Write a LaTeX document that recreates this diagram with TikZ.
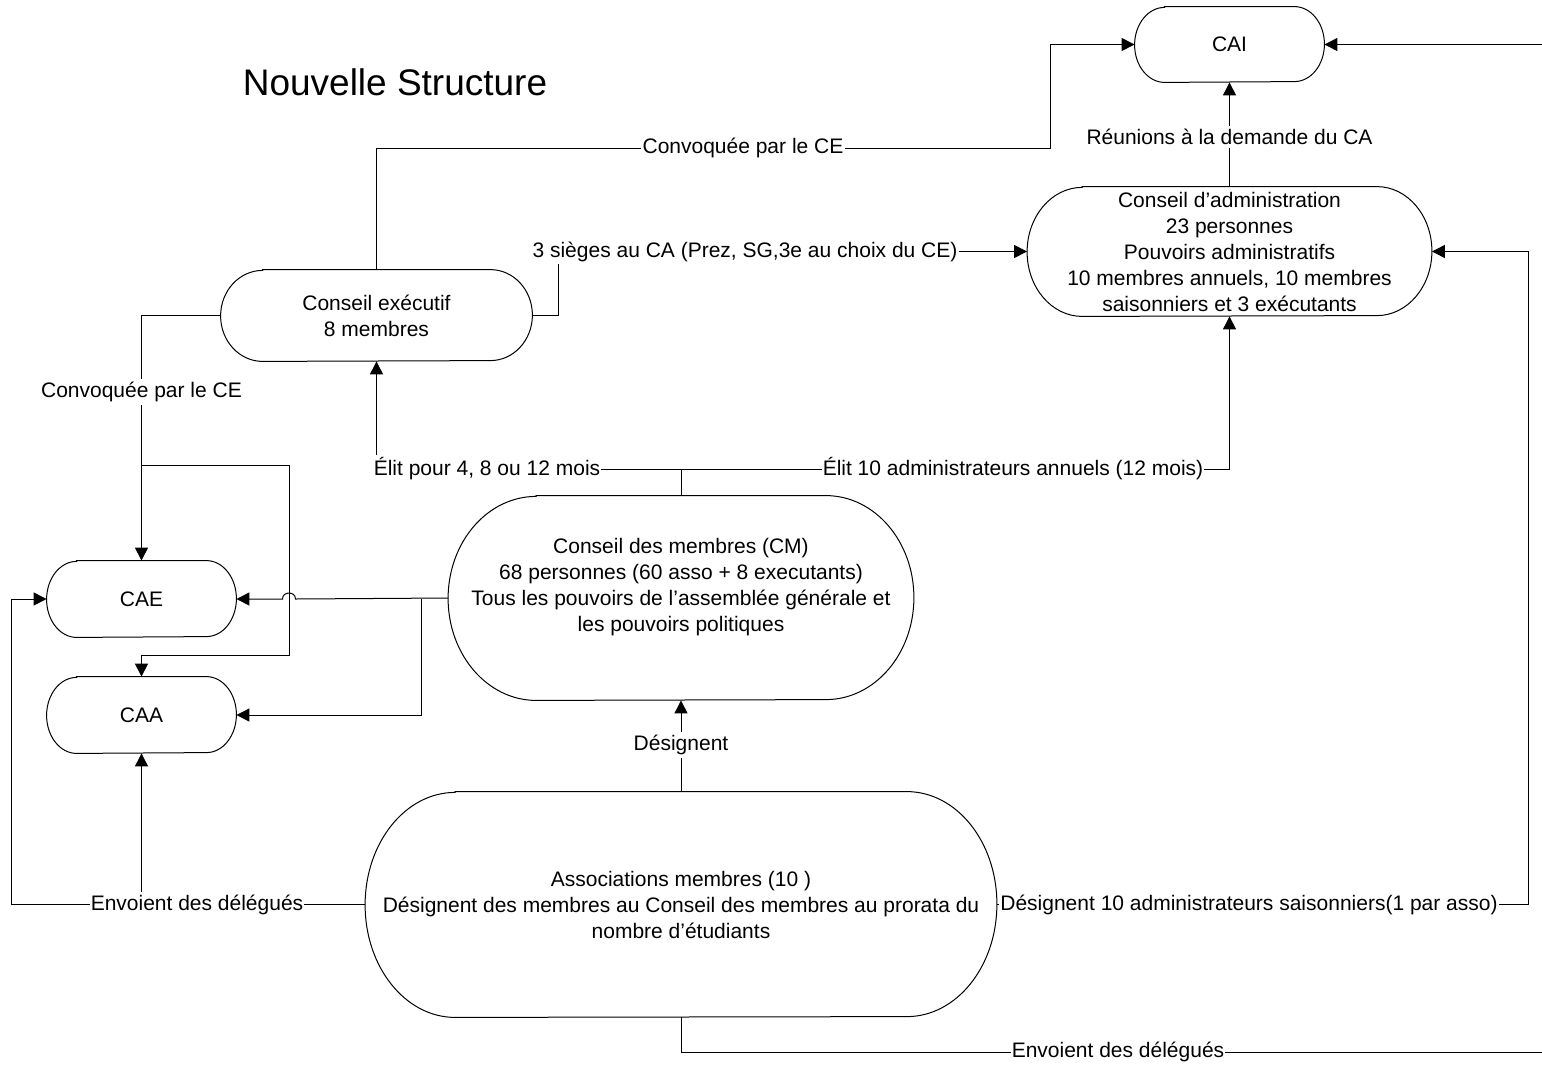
\documentclass[tikz,border=0pt]{standalone}
\usepackage{fontspec}
\setmainfont{Liberation Sans}
\usetikzlibrary{arrows.meta,calc}
\tikzset{
  txt/.style={font=\fontsize{10.5}{13}\selectfont, align=center, inner sep=0pt},
  shp/.style={draw=black, line width=0.5pt},
  con/.style={draw=black, line width=0.5pt},
  arr/.style={con, -{Triangle[length=6.5pt,width=6.5pt]}},
  lab/.style={txt, fill=white, inner xsep=0.6pt, inner ysep=1.5pt},
  ttl/.style={font=\fontsize{18.5}{22}\selectfont, inner sep=0pt},
}
% name, cx, cy, width(px), height(px), end radius(px), text
\newcommand\stnode[7]{%
  \node[txt, minimum width={#4*0.5pt}, minimum height={#5*0.5pt}] (#1) at (#2,#3) {#7};
  \draw[shp] ($(#1.north west)+(#6,0)$) -- ($(#1.north east)+(-#6,0)$)
    arc[start angle=90, end angle=-90, x radius={#6*0.5pt}, y radius={#5*0.25pt}]
    -- ($(#1.south west)+(#6,0)$)
    arc[start angle=270, end angle=90, x radius={#6*0.5pt}, y radius={#5*0.25pt}]
    -- cycle;}
\begin{document}
\begin{tikzpicture}[x=0.5pt, y=-0.5pt]
\useasboundingbox (0,0) rectangle (1542,1066);

% shapes
\stnode{CAI}{1229.5}{44.5}{189}{75}{30}{CAI}
\stnode{CA}{1229.5}{251.5}{404}{129}{55}{Conseil d’administration\\23 personnes\\Pouvoirs administratifs\\10 membres annuels, 10 membres\\saisonniers et 3 exécutants}
\stnode{CE}{376.5}{315.5}{311}{91}{42}{Conseil exécutif\\8 membres}
\stnode{CM}{681}{598}{465}{204}{88}{Conseil des membres (CM)\\68 personnes (60 asso + 8 executants)\\Tous les pouvoirs de l’assemblée générale et\\les pouvoirs politiques\\~}
\stnode{CAE}{141.5}{599}{189}{76}{30}{CAE}
\stnode{CAA}{141.5}{715}{189}{76}{30}{CAA}
\stnode{AS}{681}{904.5}{631}{225}{90}{Associations membres (10 )\\Désignent des membres au Conseil des membres au prorata du\\nombre d’étudiants}

\node[ttl] (title) at (395,82) {Nouvelle Structure};

% free ends and junctions
\coordinate (edget) at (1542,44.5);
\coordinate (edgeb) at (1542,1052);
\coordinate (b1) at (141.5,465);
\coordinate (t1) at (681,469);
\coordinate (j1) at (421,599);
\coordinate (j2) at (141.5,904.5);

% connectors
\draw[arr] (CE.north) |- (1050,148) |- (CAI.west);
\draw[arr] (edget) -- (CAI.east);
\draw[arr] (CA.north) -- (CAI.south);
\draw[arr] (CE.east) -| (558,251.5) -- (CA.west);
\draw[arr] (CE.west) -| (CAE.north);
\draw[arr] (b1) -| (289,655) -| (CAA.north);
\draw[arr] (CM.north) -- (t1) -| (CE.south);
\draw[arr] (t1) -| (CA.south);
\draw[arr] (CM.west) -- (295.5,599) .. controls (295.5,591) and (282.5,591) .. (282.5,599) -- (CAE.east);
\draw[arr] (j1) |- (CAA.east);
\draw[arr] (AS.north) -- (CM.south);
\draw[arr] (AS.west) -| (11,599) -- (CAE.west);
\draw[arr] (j2) -- (CAA.south);
\draw[arr] (AS.east) -| (1528,251.5) -- (CA.east);
\draw[con] (AS.south) |- (edgeb);

% labels
\node[lab] (L1) at (743,148) {Convoquée par le CE};
\node[lab] (L2) at (745,251.5) {3 sièges au CA (Prez, SG,3e au choix du CE)};
\node[lab] (L3) at (141.5,392) {Convoquée par le CE};
\node[lab] (L4) at (487,469) {Élit pour 4, 8 ou 12 mois};
\node[lab] (L5) at (1013,469) {Élit 10 administrateurs annuels (12 mois)};
\node[lab] (L6) at (681,745) {Désignent};
\node[lab] (L7) at (197,904.5) {Envoient des délégués};
\node[lab] (L8) at (1249,904.5) {Désignent 10 administrateurs saisonniers(1 par asso)};
\node[lab] (L9) at (1118,1052) {Envoient des délégués};
\node[lab] (L10) at (1229.5,137) {Réunions à la demande du CA};
\end{tikzpicture}
\end{document}
